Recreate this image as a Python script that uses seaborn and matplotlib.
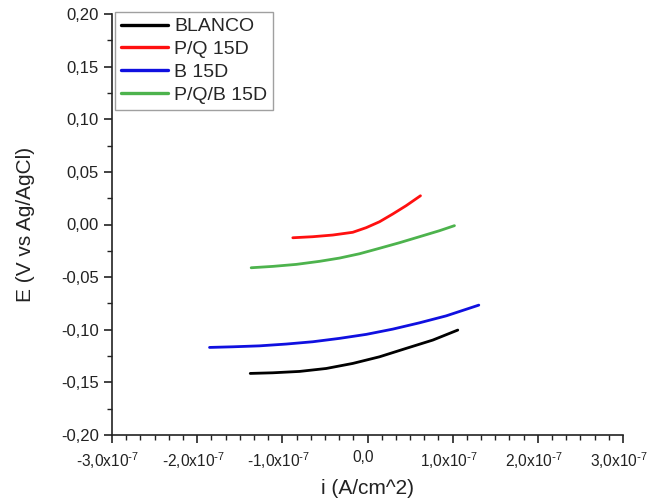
import matplotlib
matplotlib.use("Agg")
import matplotlib.pyplot as plt
import matplotlib.transforms as mtransforms
import seaborn as sns
import pandas as pd
from matplotlib.ticker import FuncFormatter, MultipleLocator, AutoMinorLocator
from matplotlib.lines import Line2D

# Data (x in units of 1e-7 A/cm^2, E in V vs Ag/AgCl)
blanco_x = [-1.377, -1.112, -0.798, -0.485, -0.173, 0.141, 0.454, 0.767, 1.060]
blanco_y = [-0.1415, -0.1409, -0.1396, -0.1368, -0.1320, -0.1257, -0.1177, -0.1098, -0.1003]

pq_x = [-0.877, -0.642, -0.407, -0.173, -0.015, 0.141, 0.297, 0.454, 0.622]
pq_y = [-0.0126, -0.0116, -0.0100, -0.0074, -0.0030, 0.0026, 0.0100, 0.0179, 0.0273]

b_x = [-1.855, -1.581, -1.268, -0.955, -0.642, -0.329, -0.015, 0.297, 0.611, 0.924, 1.307]
b_y = [-0.1168, -0.1162, -0.1153, -0.1136, -0.1114, -0.1082, -0.1044, -0.0994, -0.0934, -0.0868, -0.0766]

pqb_x = [-1.366, -1.112, -0.837, -0.564, -0.329, -0.094, 0.141, 0.376, 0.611, 0.845, 1.021]
pqb_y = [-0.0411, -0.0398, -0.0379, -0.0350, -0.0319, -0.0278, -0.0226, -0.0173, -0.0116, -0.0059, -0.0011]

series_names = ["BLANCO", "P/Q 15D", "B 15D", "P/Q/B 15D"]
series_colors = ["#000000", "#FF1010", "#1010E0", "#4DB34D"]

frames = []
for name, xs, ys in zip(series_names,
                        [blanco_x, pq_x, b_x, pqb_x],
                        [blanco_y, pq_y, b_y, pqb_y]):
    frames.append(pd.DataFrame({"i": [v * 1e-7 for v in xs], "E": ys, "serie": name}))
df = pd.concat(frames, ignore_index=True)

sns.set_style("ticks")
plt.rcParams["font.family"] = ["Liberation Sans", "DejaVu Sans"]
plt.rcParams["mathtext.default"] = "regular"

fig = plt.figure(figsize=(6.51, 5.03), dpi=100)
ax = fig.add_axes([112 / 651, 68 / 503, 511 / 651, 421 / 503])

sns.lineplot(data=df, x="i", y="E", hue="serie", hue_order=series_names,
             palette=dict(zip(series_names, series_colors)), sort=False,
             estimator=None, linewidth=2.0, ax=ax, legend=False)
for ln in ax.get_lines():
    ln.set_solid_capstyle("round")
    ln.set_solid_joinstyle("round")

ax.set_xlim(-3e-7, 3e-7)
ax.set_ylim(-0.20, 0.20)
ax.xaxis.set_major_locator(MultipleLocator(1e-7))
ax.xaxis.set_minor_locator(AutoMinorLocator(6))
ax.yaxis.set_major_locator(MultipleLocator(0.05))
ax.yaxis.set_minor_locator(AutoMinorLocator(2))


def xfmt(v, pos):
    m = round(v / 1e-7, 1)
    if abs(m) < 1e-9:
        return "0,0"
    return ("%.1f" % m).replace(".", ",") + r"x10$^{\text{-}7}$"


def yfmt(v, pos):
    return ("%.2f" % v).replace(".", ",")


ax.xaxis.set_major_formatter(FuncFormatter(xfmt))
ax.yaxis.set_major_formatter(FuncFormatter(yfmt))

ax.tick_params(which="major", direction="out", length=6, width=1.2, labelsize=12, colors="#222222")
ax.tick_params(axis="x", which="major", labelsize=11.2, pad=5)
ax.tick_params(which="minor", direction="out", length=3.5, width=1.0, colors="#222222")
for s in ["top", "right"]:
    ax.spines[s].set_visible(False)
for s in ["left", "bottom"]:
    ax.spines[s].set_linewidth(1.2)
    ax.spines[s].set_color("#222222")

# nudge x tick labels slightly left so the last one fits in the figure
shift = mtransforms.ScaledTranslation(-4 / 100, 0, fig.dpi_scale_trans)
for lbl in ax.get_xticklabels():
    lbl.set_transform(lbl.get_transform() + shift)

ax.set_xlabel("i (A/cm^2)", fontsize=15, color="#222222", labelpad=6)
ax.set_ylabel("E (V vs Ag/AgCl)", fontsize=15, color="#222222", labelpad=19)

handles = [Line2D([0], [0], color=c, linewidth=2.4) for c in series_colors]
leg = ax.legend(handles, series_names, loc="upper left", bbox_to_anchor=(0.006, 1.005),
                borderaxespad=0, fontsize=14, frameon=True, fancybox=False,
                handlelength=2.4, handletextpad=0.35, labelspacing=0.27,
                borderpad=0.3)
leg.get_frame().set_edgecolor("#888888")
leg.get_frame().set_linewidth(1.0)

fig.savefig("out.png", dpi=100)
